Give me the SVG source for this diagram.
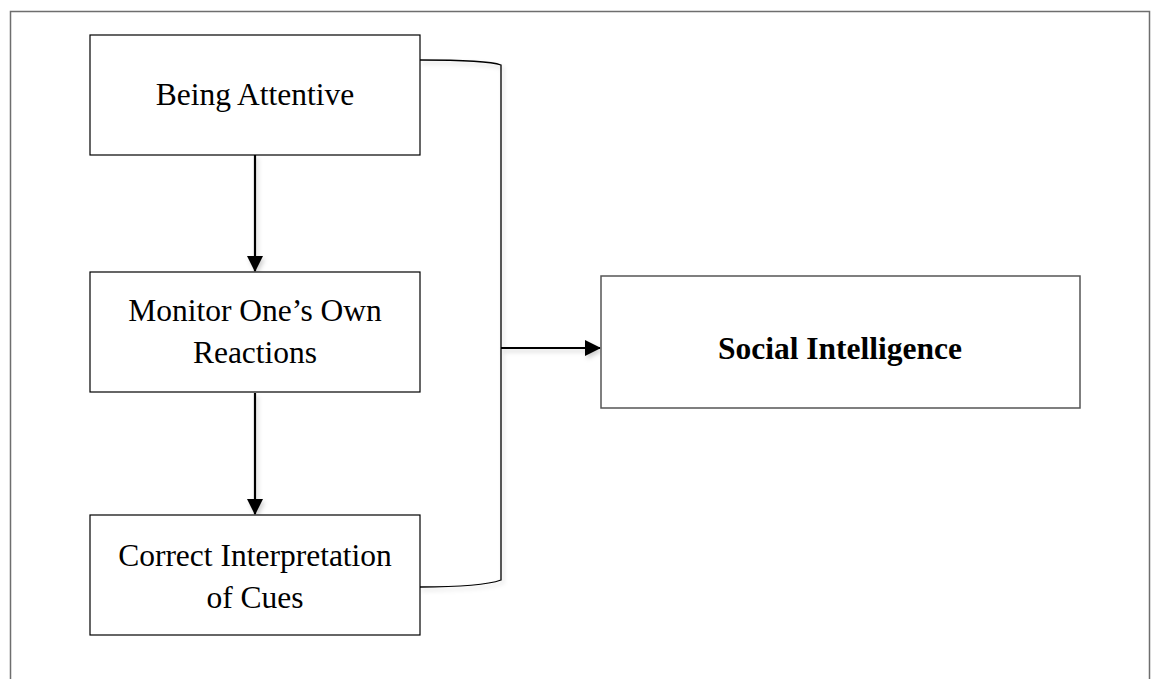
<svg xmlns="http://www.w3.org/2000/svg" width="1151" height="679" viewBox="0 0 1151 679">
  <style>
    .box { fill: #ffffff; stroke: #000000; stroke-width: 1.2; }
    .frame { fill: none; stroke: #6e6e6e; stroke-width: 1.5; }
    .label { font-family: "Liberation Serif", "Times New Roman", serif; font-size: 31.5px; fill: #000000; text-anchor: middle; }
    .bold { font-weight: bold; }
    .link { fill: none; stroke: #000000; stroke-width: 2.2; }
    .brace { fill: none; stroke: #000000; stroke-width: 1.3; }
  </style>
  <defs>
    <marker id="arrow" markerWidth="16" markerHeight="16" refX="15" refY="8" orient="auto" markerUnits="userSpaceOnUse" viewBox="0 0 16 16">
      <path d="M0,0 L16,8 L0,16 Z" fill="#000000"/>
    </marker>
    <filter id="soft" x="-10%" y="-10%" width="130%" height="130%">
      <feDropShadow dx="2" dy="3" stdDeviation="2" flood-color="#000000" flood-opacity="0.18"/>
    </filter>
  </defs>

  <rect width="1151" height="679" fill="#ffffff"/>

  <!-- page frame, open at the bottom -->
  <path class="frame" d="M10.5,679 V11.5 H1149.5 V679"/>

  <!-- connectors -->
  <g id="connectors" filter="url(#soft)">
    <path class="brace" d="M420,60 C460,60 490,61 501,65 V580 C490,584 460,587 420,587"/>
    <line class="link" x1="255" y1="155" x2="255" y2="271" marker-end="url(#arrow)"/>
    <line class="link" x1="255" y1="393" x2="255" y2="514" marker-end="url(#arrow)"/>
    <line class="link" x1="501" y1="348" x2="600" y2="348" marker-end="url(#arrow)"/>
  </g>

  <g id="being-attentive">
    <rect class="box" x="90" y="35" width="330" height="120"/>
    <text class="label" x="255" y="105">Being Attentive</text>
  </g>

  <g id="monitor-reactions">
    <rect class="box" x="90" y="272" width="330" height="120"/>
    <text class="label" x="255" y="321">Monitor One’s Own</text>
    <text class="label" x="255" y="363">Reactions</text>
  </g>

  <g id="correct-interpretation">
    <rect class="box" x="90" y="515" width="330" height="120"/>
    <text class="label" x="255" y="566">Correct Interpretation</text>
    <text class="label" x="255" y="608">of Cues</text>
  </g>

  <g id="social-intelligence">
    <rect class="box" x="601" y="276" width="479" height="132" style="stroke:#555555;stroke-width:1.5"/>
    <text class="label bold" x="840" y="359">Social Intelligence</text>
  </g>
</svg>
